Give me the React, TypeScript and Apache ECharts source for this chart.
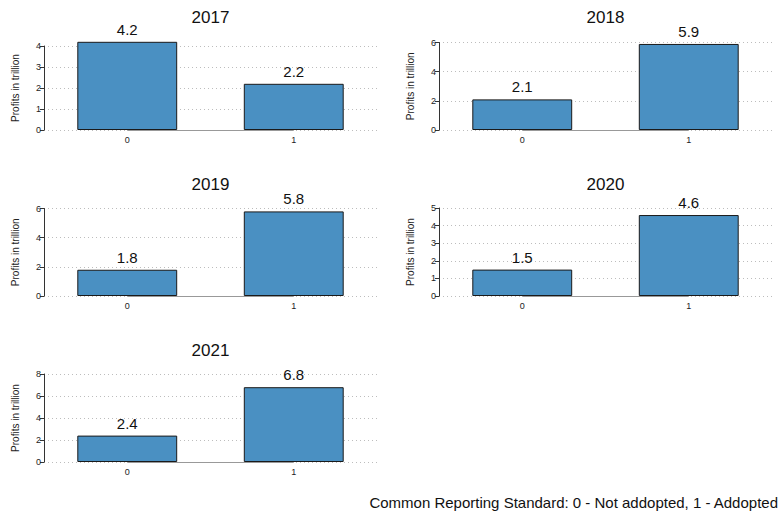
import React, { useEffect, useRef } from "react";
import * as echarts from "echarts";

const years = ["2017", "2018", "2019", "2020", "2021"];
const categories = ["0", "1"];
const notAdopted = [4.2, 2.1, 1.8, 1.5, 2.4];
const adopted = [2.2, 5.9, 5.8, 4.6, 6.8];
const yMax = [4, 6, 6, 5, 8];
const yInterval = [1, 2, 2, 1, 2];
const yAxisName = "Profits in trillion";
const footnote = "Common Reporting Standard: 0 - Not addopted, 1 - Addopted";

const FONT = "'Liberation Sans', Arial, Helvetica, sans-serif";

// layout: [left, top, height] for each panel
const panelLayout = [
  [44, 46, 84],
  [439, 42.5, 87.5],
  [44, 208.5, 87.5],
  [439, 208, 88],
  [44, 374, 88],
];
const titleY = [17, 17, 184, 184, 350];
const PANEL_W = 333;

export default function App() {
  const ref = useRef<HTMLDivElement>(null);
  useEffect(() => {
    if (!ref.current) return;
    const chart = echarts.init(ref.current, undefined, { renderer: "svg" });
    const grids: any[] = [];
    const xAxes: any[] = [];
    const yAxes: any[] = [];
    const series: any[] = [];
    const graphics: any[] = [];
    years.forEach((yr, i) => {
      const [left, top, height] = panelLayout[i];
      grids.push({ left, top, width: PANEL_W, height, containLabel: false });
      xAxes.push({
        type: "category",
        gridIndex: i,
        data: categories,
        axisLine: { show: false },
        axisTick: { show: false },
        axisLabel: { fontSize: 9, color: "#222", margin: 5, fontFamily: FONT },
        splitLine: { show: false },
      });
      yAxes.push({
        type: "value",
        gridIndex: i,
        min: 0,
        max: yMax[i],
        interval: yInterval[i],
        name: yAxisName,
        nameLocation: "middle",
        nameGap: 24,
        nameRotate: 90,
        nameTextStyle: { fontSize: 10, color: "#222", fontFamily: FONT },
        axisLine: { show: true, lineStyle: { color: "#333", width: 1 } },
        axisTick: { show: true, length: 4, lineStyle: { color: "#333" } },
        axisLabel: { fontSize: 9, color: "#222", margin: 3, fontFamily: FONT },
        splitLine: { show: true, lineStyle: { color: "#bdbdbd", type: [1, 3], width: 1 } },
      });
      series.push({
        type: "bar",
        xAxisIndex: i,
        yAxisIndex: i,
        data: [notAdopted[i], adopted[i]],
        barWidth: "60%",
        clip: false,
        itemStyle: { color: "#4a90c2", borderColor: "#1a1a1a", borderWidth: 1 },
        label: {
          show: true,
          position: "top",
          distance: 5,
          fontSize: 15,
          color: "#111",
          fontFamily: FONT,
          formatter: (p: any) => Number(p.value).toFixed(1),
        },
        markLine: {
          silent: true,
          symbol: "none",
          label: { show: false },
          lineStyle: { color: "#999", type: "solid", width: 1 },
          data: [[{ coord: [categories[0], 0] }, { coord: [categories[1], 0] }]],
        },
      });
      graphics.push({
        type: "text",
        x: left + PANEL_W / 2,
        y: titleY[i],
        style: {
          text: yr,
          fontSize: 17,
          fontFamily: FONT,
          fill: "#111",
          textAlign: "center",
          textVerticalAlign: "middle",
        },
      });
    });
    graphics.push({
      type: "text",
      x: 778,
      y: 502,
      style: {
        text: footnote,
        fontSize: 15,
        fontFamily: FONT,
        fill: "#111",
        textAlign: "right",
        textVerticalAlign: "middle",
      },
    });
    chart.setOption({
      animation: false,
      backgroundColor: "#ffffff",
      textStyle: { fontFamily: FONT },
      grid: grids,
      xAxis: xAxes,
      yAxis: yAxes,
      series,
      graphic: graphics,
    });
    return () => chart.dispose();
  }, []);
  return (
    <div
      ref={ref}
      style={{ position: "absolute", left: 0, top: 0, width: 782, height: 516 }}
    />
  );
}
